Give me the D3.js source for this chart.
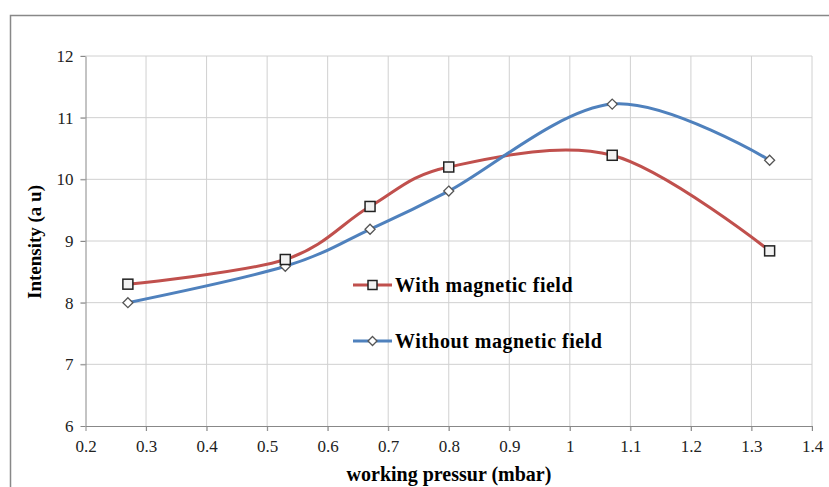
<!DOCTYPE html>
<html><head><meta charset="utf-8">
<script src="https://cdn.jsdelivr.net/npm/d3@7"></script>
<style>body{margin:0;background:#fff}svg{display:block}.tk text{font-family:"Liberation Serif",serif !important}</style>
</head><body>
<svg id="c" width="829" height="487"></svg>
<script>
const pressure = [0.27, 0.53, 0.67, 0.80, 1.07, 1.33];
const withField = [8.30, 8.70, 9.56, 10.20, 10.39, 8.84];
const withoutField = [8.00, 8.59, 9.19, 9.81, 11.22, 10.31];
const xTicks = [0.2,0.3,0.4,0.5,0.6,0.7,0.8,0.9,1,1.1,1.2,1.3,1.4];
const yTicks = [6,7,8,9,10,11,12];
const seriesNames = ["With magnetic field","Without magnetic field"];

const svg = d3.select("#c");
const x = d3.scaleLinear().domain([0.2,1.4]).range([85.5,812]);
const y = d3.scaleLinear().domain([6,12]).range([426,56]);

// outer frame
svg.append("path").attr("d","M10.5,490 V15.5 H840").attr("fill","none").attr("stroke","#888").attr("stroke-width",1.5);

// gridlines
svg.append("g").selectAll("line").data(xTicks.slice(1)).join("line")
  .attr("x1",d=>x(d)).attr("x2",d=>x(d)).attr("y1",y(12)).attr("y2",y(6)+5)
  .attr("stroke","#d0d0d0").attr("stroke-width",1);
svg.append("g").selectAll("line").data(yTicks.slice(1)).join("line")
  .attr("x1",x(0.2)-5).attr("x2",x(1.4)).attr("y1",d=>y(d)).attr("y2",d=>y(d))
  .attr("stroke","#d0d0d0").attr("stroke-width",1);

// axes
const xa = svg.append("g").attr("class","tk").attr("transform",`translate(0,${y(6)})`)
  .call(d3.axisBottom(x).tickValues(xTicks).tickFormat(d3.format("")).tickSize(5).tickSizeOuter(0));
const ya = svg.append("g").attr("class","tk").attr("transform",`translate(${x(0.2)},0)`)
  .call(d3.axisLeft(y).tickValues(yTicks).tickFormat(d3.format("")).tickSize(5).tickSizeOuter(0));
[xa,ya].forEach(a=>{
  a.attr("font-family","Liberation Serif").attr("font-size",17);
  a.select(".domain").attr("stroke","#888");
  a.selectAll(".tick line").attr("stroke","#888");
  a.selectAll("text").attr("font-family","Liberation Serif").attr("font-size",17).attr("fill","#222");
});
xa.selectAll("text").attr("y",0).attr("dy",0).attr("transform","translate(0,26)");
ya.selectAll("text").attr("x",-12);

// titles
svg.append("text").attr("x",449).attr("y",481).attr("text-anchor","middle")
  .attr("font-family","Liberation Serif").attr("font-weight","bold").attr("font-size",20).text("working pressur (mbar)");
svg.append("text").attr("transform",`translate(41,242) rotate(-90)`).attr("text-anchor","middle")
  .attr("font-family","Liberation Serif").attr("font-weight","bold").attr("font-size",19).text("Intensity (a u)");

const line = d3.line().x(d=>x(d[0])).y(d=>y(d[1])).curve(d3.curveCardinal.tension(0));
const dWith = pressure.map((p,i)=>[p,withField[i]]);
const dWithout = pressure.map((p,i)=>[p,withoutField[i]]);
const colors = ["#C0504D","#4F81BD"];

svg.append("path").datum(dWith).attr("d",line).attr("fill","none").attr("stroke",colors[0]).attr("stroke-width",3);
svg.append("path").datum(dWithout).attr("d",line).attr("fill","none").attr("stroke",colors[1]).attr("stroke-width",3);

function square(g,cx,cy,s){
  g.append("rect").attr("x",cx-s/2).attr("y",cy-s/2).attr("width",s).attr("height",s)
   .attr("fill","#f2f2f2").attr("stroke","#222").attr("stroke-width",1.5);
}
function diamond(g,cx,cy,s){
  g.append("path").attr("d",`M${cx},${cy-s/2} L${cx+s/2},${cy} L${cx},${cy+s/2} L${cx-s/2},${cy} Z`)
   .attr("fill","#fff").attr("stroke","#555").attr("stroke-width",1.3);
}
const mk = svg.append("g");
dWithout.forEach(d=>diamond(mk,x(d[0]),y(d[1]),10));
dWith.forEach(d=>square(mk,x(d[0]),y(d[1]),10));

// legend
const lg = svg.append("g");
const ly = [285,341];
seriesNames.forEach((n,i)=>{
  lg.append("line").attr("x1",353).attr("x2",392).attr("y1",ly[i]).attr("y2",ly[i]).attr("stroke",colors[i]).attr("stroke-width",3);
  if(i===0) square(lg,372.5,ly[i],9); else diamond(lg,372.5,ly[i],9);
  lg.append("text").attr("x",395).attr("y",ly[i]+7).attr("font-family","Liberation Serif")
    .attr("font-weight","bold").attr("font-size",20).attr("letter-spacing",0.5).text(n);
});
</script>
</body></html>
